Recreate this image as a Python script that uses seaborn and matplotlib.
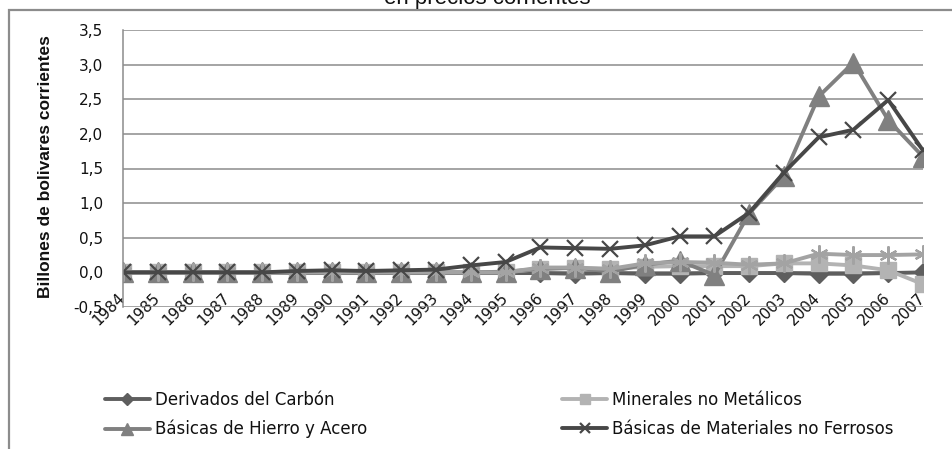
import matplotlib
matplotlib.use("Agg")
import matplotlib.pyplot as plt
import matplotlib.transforms as mtransforms
from matplotlib.patches import Rectangle
import seaborn as sns
import numpy as np

sns.set_style("white")
plt.rcParams["font.family"] = ["DejaVu Sans"]

# Años de la serie
years = [str(y) for y in range(1984, 2008)]

# Billones de bolívares corrientes por rama
derivados_carbon = [0.0, 0.0, 0.0, 0.0, 0.0, -0.01, -0.01, -0.01, -0.01, -0.01, -0.01, -0.01,
                    -0.01, -0.02, -0.01, -0.02, -0.02, -0.01, -0.01, -0.01, -0.02, -0.02, -0.01, 0.0]
minerales_no_metalicos = [0.0, 0.0, 0.0, 0.0, 0.0, 0.0, 0.0, 0.0, 0.0, 0.0, 0.0, 0.0,
                          0.05, 0.06, 0.05, 0.08, 0.09, 0.09, 0.09, 0.13, 0.13, 0.10, 0.03, -0.17]
hierro_acero = [0.0, 0.0, 0.0, 0.0, 0.0, 0.0, 0.0, 0.0, 0.0, 0.0, 0.0, 0.01,
                0.05, 0.07, 0.01, 0.11, 0.17, -0.04, 0.85, 1.39, 2.54, 3.03, 2.20, 1.67]
no_ferrosos = [0.0, 0.0, 0.0, 0.0, 0.0, 0.02, 0.03, 0.02, 0.03, 0.04, 0.10, 0.15,
               0.36, 0.35, 0.34, 0.39, 0.52, 0.52, 0.86, 1.44, 1.95, 2.06, 2.49, 1.76]
otras_ramas = [0.0, 0.0, 0.0, 0.0, 0.0, 0.0, 0.0, 0.0, 0.0, 0.0, 0.0, 0.0,
               0.07, 0.07, 0.05, 0.13, 0.15, 0.14, 0.11, 0.13, 0.27, 0.25, 0.25, 0.26]

series = [
    ("Derivados del Carbón", derivados_carbon, "#5e5e5e", "D", 9, 1.0),
    ("Minerales no Metálicos", minerales_no_metalicos, "#b3b3b3", "s", 12, 1.0),
    ("Básicas de Hierro y Acero", hierro_acero, "#808080", "^", 14, 1.0),
    (None, otras_ramas, "#a3a3a3", (6, 2, 0), 13, 1.6),
    ("Básicas de Materiales no Ferrosos", no_ferrosos, "#474747", "x", 12, 1.6),
]

fig = plt.figure(figsize=(9.53, 4.49), dpi=100)
ax = fig.add_axes([123 / 953, 1 - 307 / 449, 800 / 953, 277 / 449])

x = np.arange(len(years))
handles = {}
for name, vals, color, marker, ms, mew in series:
    sns.lineplot(x=x, y=vals, ax=ax, color=color, linewidth=2.8,
                 marker=marker, markersize=ms, markeredgecolor=color,
                 markerfacecolor=color, markeredgewidth=mew,
                 label=name if name else "_nolegend_", legend=False)
    if name:
        handles[name] = ax.lines[-1]

ax.set_xlim(0, len(years) - 1)
ax.set_ylim(-0.5, 3.5)
yt = np.arange(-0.5, 3.51, 0.5)
ax.set_yticks(yt)
ax.set_yticklabels([f"{v:.1f}".replace(".", ",") for v in yt])
ax.yaxis.grid(True, color="#8c8c8c", linewidth=1.1)
ax.set_axisbelow(True)
for s in ["top", "right", "bottom"]:
    ax.spines[s].set_visible(False)
ax.spines["left"].set_color("#8c8c8c")
ax.spines["left"].set_linewidth(1.1)
ax.tick_params(axis="y", length=4.3, width=1.1, color="#8c8c8c", pad=10,
               labelsize=11, labelcolor="#111111")
ax.tick_params(axis="x", length=0, pad=0, labelsize=11, labelcolor="#111111")
ax.set_xticks(x)
ax.set_xticklabels(years, rotation=45, rotation_mode="anchor", ha="center", va="center")
offset = mtransforms.ScaledTranslation(-14 / 100, -2 / 100, fig.dpi_scale_trans)
for lab in ax.get_xticklabels():
    lab.set_transform(lab.get_transform() + offset)
ax.set_xlabel("")
ax.set_ylabel("")

fig.text(46 / 953, 1 - 167 / 449, "Billones de bolivares corrientes", rotation=90,
         ha="center", va="center", fontsize=12.5, fontweight="bold",
         family=["Liberation Sans", "DejaVu Sans"], color="#111111")

fig.text(487 / 953, 1 - 4 / 449, "en precios corrientes", ha="center", va="baseline",
         fontsize=16, family=["Liberation Sans", "DejaVu Sans"], color="#111111")

fig.add_artist(Rectangle((9 / 953, -0.1), 1.2, 1.1 - 10 / 449, transform=fig.transFigure,
                         fill=False, edgecolor="#8c8c8c", linewidth=1.6))

order = ["Derivados del Carbón", "Básicas de Hierro y Acero",
         "Minerales no Metálicos", "Básicas de Materiales no Ferrosos"]
fig.legend([handles[k] for k in order], order, ncol=2, loc="upper left",
           bbox_to_anchor=(105 / 953, 1 - 391 / 449), frameon=False, fontsize=12,
           handlelength=2.7, handletextpad=0.3, columnspacing=11.7,
           labelspacing=0.65, borderpad=0, borderaxespad=0, markerscale=0.65,
           labelcolor="#111111")

fig.savefig("out.png", dpi=100)
